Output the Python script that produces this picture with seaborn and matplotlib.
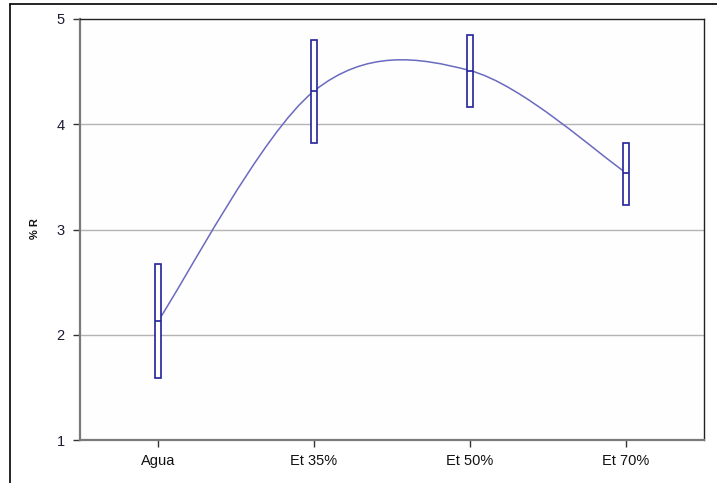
import numpy as np
import matplotlib
matplotlib.use("Agg")
import matplotlib.pyplot as plt
import seaborn as sns
from matplotlib.path import Path
from matplotlib.patches import PathPatch
from matplotlib.lines import Line2D

# Data
categories = ["Agua", "Et 35%", "Et 50%", "Et 70%"]
mean_r = [2.13, 4.315, 4.51, 3.54]
high_r = [2.675, 4.80, 4.845, 3.82]
low_r = [1.585, 3.82, 4.166, 3.23]
y_ticks = [1, 2, 3, 4, 5]

sns.set_theme(style="white")
plt.rcParams["font.family"] = ["Liberation Sans", "DejaVu Sans"]

W, H = 717, 483
fig = plt.figure(figsize=(W / 100, H / 100), dpi=100)
fig.patch.set_facecolor("white")

left, right, top, bottom = 80, 704, 19, 440
ax = fig.add_axes([left / W, (H - bottom) / H, (right - left) / W, (bottom - top) / H])
ax.set_facecolor("#fefefe")

x = np.arange(len(categories))
ax.set_xlim(-0.5, len(categories) - 0.5)
ax.set_ylim(1, 5)

# horizontal gridlines
for v in y_ticks[1:-1]:
    ax.axhline(v, color="#b4b4b4", lw=1.0, zorder=0)

# smoothed line through the means (cubic Bezier segments)
pts = np.column_stack([x, mean_r]).astype(float)
n = len(pts)
verts = [tuple(pts[0])]
codes = [Path.MOVETO]
for i in range(n - 1):
    p_prev = pts[i - 1] if i > 0 else pts[i]
    p_next2 = pts[i + 2] if i + 2 < n else pts[i + 1]
    c1 = pts[i] + (pts[i + 1] - p_prev) / 6.0
    c2 = pts[i + 1] - (p_next2 - pts[i]) / 6.0
    verts += [tuple(c1), tuple(c2), tuple(pts[i + 1])]
    codes += [Path.CURVE4] * 3
ax.add_patch(PathPatch(Path(verts, codes), facecolor="none",
                       edgecolor="#6a6ac0", lw=1.1, zorder=2))

# range boxes with mean marks
box_w = 0.043
heights = np.array(high_r) - np.array(low_r)
ax.bar(x, heights, bottom=low_r, width=box_w, color="white",
       edgecolor="#23239b", linewidth=1.2, zorder=3)
ax.hlines(mean_r, x - box_w / 2, x + box_w / 2, color="#23239b", lw=1.2, zorder=4)

# axes styling
ax.set_xticks(x)
ax.set_xticklabels(categories, fontsize=10.5, color="#111111")
ax.set_yticks(y_ticks)
ax.set_yticklabels([str(v) for v in y_ticks], fontsize=10.5, color="#1a1a33")
ax.tick_params(axis="both", which="both", direction="out", length=5, width=1,
               color="#333333", bottom=True, left=True, pad=6)
ax.tick_params(axis="x", pad=5)
for s in ["left", "bottom"]:
    ax.spines[s].set_color("#7a7a7a")
    ax.spines[s].set_linewidth(1.6)
for s in ["top", "right"]:
    ax.spines[s].set_color("#222222")
    ax.spines[s].set_linewidth(1.0)

fig.text(35 / W, (H - 229) / H, "% R", rotation=90, fontsize=8, fontweight="bold",
         ha="center", va="center", color="#111111")

# outer frame
fig.add_artist(Line2D([10 / W, 10 / W], [0, (H - 4) / H], transform=fig.transFigure,
                      color="black", lw=1.2))
fig.add_artist(Line2D([10 / W, 1], [(H - 4) / H, (H - 4) / H], transform=fig.transFigure,
                      color="black", lw=1.2))

fig.savefig("out.png", dpi=100, facecolor="white")
